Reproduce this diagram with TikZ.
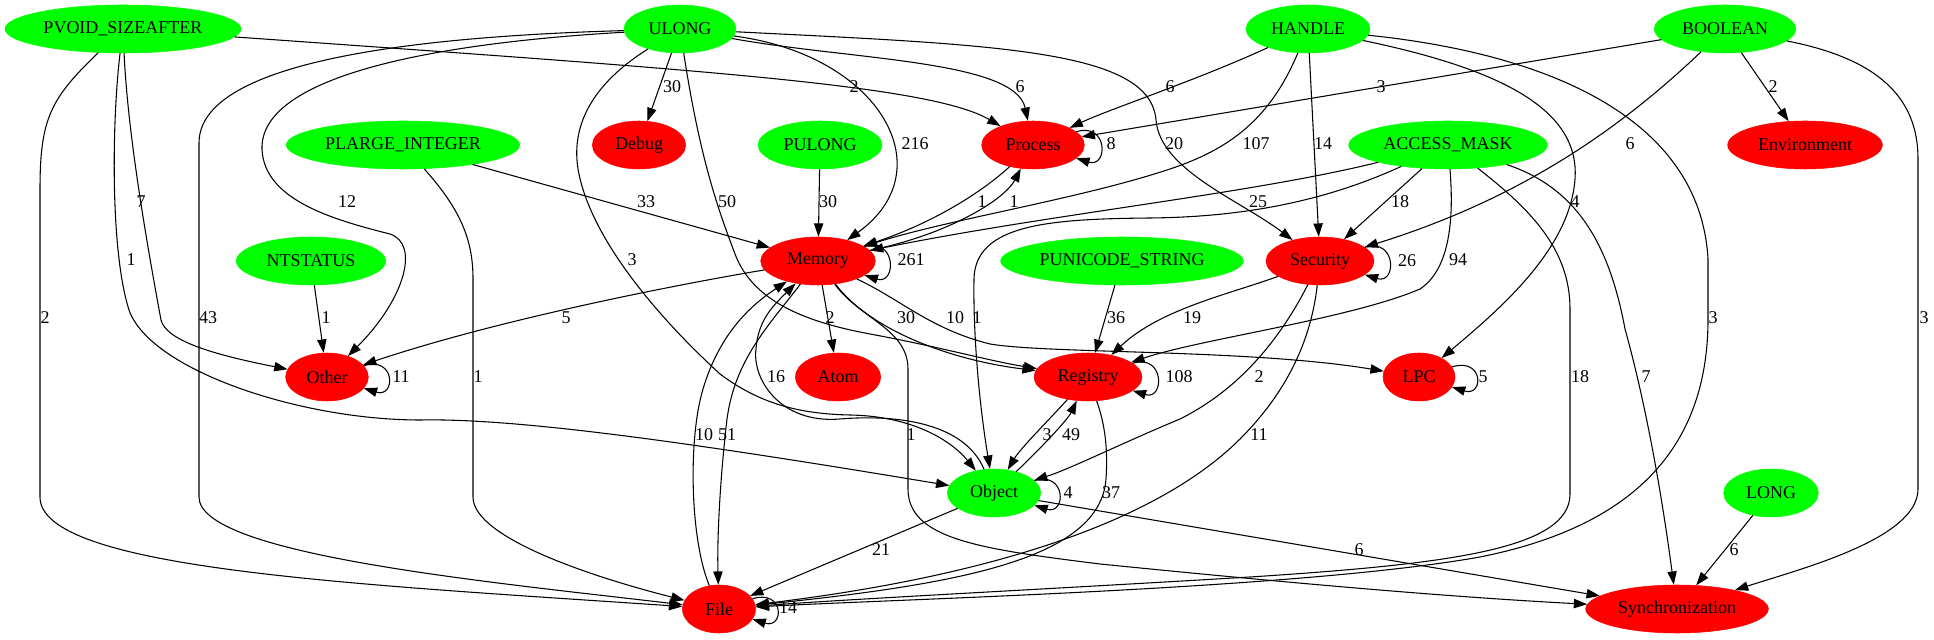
\documentclass[tikz,border=0pt]{standalone}
\usepackage{fontspec}
\setmainfont{Liberation Serif}
\usetikzlibrary{shapes.geometric,arrows.meta}

\definecolor{gvgreen}{HTML}{00FF00}
\definecolor{gvred}{HTML}{FF0000}

\begin{document}
\begin{tikzpicture}[x=0.75pt,y=0.75pt,
    typenode/.style={ellipse, fill=gvgreen, draw=gvgreen, inner sep=0pt, minimum height=36pt, font=\fontsize{13.5}{15}\selectfont},
    catnode/.style={typenode, fill=gvred, draw=gvred},
    dep/.style={-{Triangle[length=10pt,width=7pt]}, line width=0.8pt},
    cnt/.style={inner sep=0pt, font=\fontsize{13.5}{15}\selectfont}]
        \useasboundingbox (0,0) rectangle (1934,639);

        % Vertices
        \node[typenode, minimum width=177pt] (pvoid) at (123,610) {PVOID\_SIZEAFTER};
        \node[typenode, minimum width=84pt] (ulong) at (680,610) {ULONG};
        \node[typenode, minimum width=93pt] (handle) at (1308,610) {HANDLE};
        \node[typenode, minimum width=106pt] (boolean) at (1725,610) {BOOLEAN};
        \node[typenode, minimum width=175pt] (plarge) at (403,494) {PLARGE\_INTEGER};
        \node[catnode, minimum width=70pt] (debug) at (639,494) {Debug};
        \node[typenode, minimum width=93pt] (pulong) at (820,494) {PULONG};
        \node[catnode, minimum width=77pt] (process) at (1033,494) {Process};
        \node[typenode, minimum width=149pt] (amask) at (1448,494) {ACCESS\_MASK};
        \node[catnode, minimum width=116pt] (environ) at (1805,494) {Environment};
        \node[typenode, minimum width=112pt] (ntstatus) at (311,378) {NTSTATUS};
        \node[catnode, minimum width=86pt] (memory) at (818,378) {Memory};
        \node[typenode, minimum width=182pt] (punicode) at (1122,378) {PUNICODE\_STRING};
        \node[catnode, minimum width=81pt] (security) at (1320,378) {Security};
        \node[catnode, minimum width=62pt] (other) at (327,262) {Other};
        \node[catnode, minimum width=64pt] (atom) at (838,262) {Atom};
        \node[catnode, minimum width=81pt] (registry) at (1088,262) {Registry};
        \node[catnode, minimum width=54pt] (lpc) at (1419,262) {LPC};
        \node[typenode, minimum width=70pt] (object) at (994,146) {Object};
        \node[typenode, minimum width=71pt] (long) at (1771,146) {LONG};
        \node[catnode, minimum width=55pt] (file) at (719,30) {File};
        \node[catnode, minimum width=137pt] (sync) at (1677,30) {Synchronization};

        % Directed edges
        \draw[dep] (pvoid) .. controls (700,569) and (930,554) .. (process);
        \draw[dep] (pvoid) .. controls (50,540) and (40,520) .. (40,449) -- (40,142) .. controls (40,70) and (350,55) .. (file);
        \draw[dep] (pvoid) .. controls (128,499) and (150,379) .. (161,319) .. controls (166,299) and (210,285) .. (other);
        \draw[dep] (pvoid) .. controls (112,519) and (110,389) .. (129,329) .. controls (150,269) and (300,219) .. (420,219) .. controls (520,221) and (700,195) .. (object);

        \draw[dep] (ulong) -- (debug);
        \draw[dep] (ulong) .. controls (850,579) and (1015,579) .. (process);
        \draw[dep] (ulong) .. controls (880,584) and (945,469) .. (memory);
        \draw[dep] (ulong) .. controls (1000,594) and (1150,589) .. (1156,519) .. controls (1160,469) and (1240,439) .. (security);
        \draw[dep] (ulong) .. controls (700,480) and (718,430) .. (735,385) .. controls (752,340) and (800,318) .. (870,305) .. controls (940,292) and (990,278) .. (registry);
        \draw[dep] (ulong) .. controls (600,560) and (570,520) .. (578,470) .. controls (590,400) and (660,320) .. (720,265) .. controls (760,235) and (800,225) .. (850,224) .. controls (910,223) and (950,200) .. (object);
        \draw[dep] (ulong) .. controls (400,602) and (199,575) .. (199,496) -- (199,142) .. controls (199,85) and (480,58) .. (file);
        \draw[dep] (ulong) .. controls (420,595) and (260,560) .. (262,490) .. controls (264,440) and (330,420) .. (390,405) .. controls (420,395) and (405,340) .. (other);

        \draw[dep] (handle) .. controls (1200,560) and (1110,530) .. (process);
        \draw[dep] (handle) .. controls (1270,520) and (1230,490) .. (1170,470) .. controls (1080,440) and (950,420) .. (memory);
        \draw[dep] (handle) -- (security);
        \draw[dep] (handle) .. controls (1500,570) and (1580,530) .. (1575,460) .. controls (1570,390) and (1500,330) .. (lpc);
        \draw[dep] (handle) .. controls (1550,585) and (1700,520) .. (1708,380) -- (1708,320) .. controls (1708,180) and (1620,110) .. (1480,82) .. controls (1300,50) and (900,40) .. (file);

        \draw[dep] (boolean) -- (process);
        \draw[dep] (boolean) .. controls (1620,510) and (1520,440) .. (security);
        \draw[dep] (boolean) -- (environ);
        \draw[dep] (boolean) .. controls (1880,580) and (1918,540) .. (1918,480) -- (1918,150) .. controls (1918,100) and (1800,70) .. (sync);

        \draw[dep] (plarge) -- (memory);
        \draw[dep] (plarge) .. controls (460,430) and (473,400) .. (473,360) -- (473,142) .. controls (473,100) and (600,60) .. (file);
        \draw[dep] (pulong) -- (memory);
        \draw[dep] (ntstatus) -- (other);
        \draw[dep] (punicode) -- (registry);
        \draw[dep] (long) -- (sync);

        \draw[dep] (process.17) .. controls +(32,10) and +(32,-10) .. (process.-17);
        \draw[dep] (process) .. controls (980,445) and (930,415) .. (memory);
        \draw[dep] (memory) .. controls (950,405) and (1005,440) .. (process);

        \draw[dep] (amask) .. controls (1250,445) and (1050,425) .. (memory);
        \draw[dep] (amask) .. controls (1330,440) and (1250,422) .. (1150,421) .. controls (1050,420) and (975,415) .. (974,360) .. controls (973,300) and (980,230) .. (object);
        \draw[dep] (amask) -- (security);
        \draw[dep] (amask) .. controls (1454,420) and (1450,370) .. (1420,350) .. controls (1350,320) and (1200,300) .. (registry);
        \draw[dep] (amask) .. controls (1530,430) and (1570,390) .. (1570,330) -- (1570,145) .. controls (1570,90) and (1450,75) .. (1250,62) .. controls (1050,50) and (850,40) .. (file);
        \draw[dep] (amask) .. controls (1580,450) and (1610,390) .. (1625,310) .. controls (1650,220) and (1665,120) .. (sync);

        \draw[dep] (memory.17) .. controls +(32,10) and +(32,-10) .. (memory.-17);
        \draw[dep] (memory) .. controls (680,355) and (500,320) .. (other);
        \draw[dep] (memory) -- (atom);
        \draw[dep] (memory) .. controls (870,309) and (950,279) .. (registry);
        \draw[dep] (memory) .. controls (900,340) and (930,310) .. (990,295) .. controls (1050,285) and (1250,290) .. (lpc);
        \draw[dep] (memory) .. controls (860,320) and (908,310) .. (908,270) -- (908,150) .. controls (908,100) and (980,90) .. (1100,75) .. controls (1300,55) and (1450,42) .. (sync);
        \draw[dep] (memory) .. controls (770,315) and (735,280) .. (727,220) .. controls (720,160) and (717,100) .. (file);

        \draw[dep] (file.17) .. controls +(32,10) and +(32,-10) .. (file.-17);
        \draw[dep] (file) .. controls (690,100) and (688,200) .. (703,250) .. controls (718,300) and (745,330) .. (memory);

        \draw[dep] (object.17) .. controls +(32,10) and +(32,-10) .. (object.-17);
        \draw[dep] (object) .. controls (965,215) and (900,225) .. (840,220) .. controls (780,215) and (752,260) .. (756,290) .. controls (758,320) and (775,335) .. (memory);
        \draw[dep] (object) -- (file);
        \draw[dep] (object) .. controls (1045,195) and (1068,220) .. (registry);
        \draw[dep] (object) -- (sync);

        \draw[dep] (registry.17) .. controls +(32,10) and +(32,-10) .. (registry.-17);
        \draw[dep] (registry) .. controls (1045,215) and (1020,190) .. (object);
        \draw[dep] (registry) .. controls (1105,215) and (1108,190) .. (1106,160) .. controls (1100,80) and (960,55) .. (file);

        \draw[dep] (security.17) .. controls +(32,10) and +(32,-10) .. (security.-17);
        \draw[dep] (security) .. controls (1230,345) and (1160,330) .. (registry);
        \draw[dep] (security) .. controls (1280,300) and (1240,250) .. (1180,220) .. controls (1120,195) and (1070,170) .. (object);
        \draw[dep] (security) .. controls (1310,290) and (1280,240) .. (1240,200) .. controls (1180,140) and (1050,70) .. (file);

        \draw[dep] (lpc.17) .. controls +(32,10) and +(32,-10) .. (lpc.-17);
        \draw[dep] (other.17) .. controls +(32,10) and +(32,-10) .. (other.-17);

        % Edge counts
        \node[cnt] (c1) at (854,552) {2};
        \node[cnt] (c2) at (45,321) {2};
        \node[cnt] (c3) at (141,437) {7};
        \node[cnt] (c4) at (131,379) {1};
        \node[cnt] (c5) at (672,552) {30};
        \node[cnt] (c6) at (1020,552) {6};
        \node[cnt] (c7) at (915,495) {216};
        \node[cnt] (c8) at (1174,495) {20};
        \node[cnt] (c9) at (727,437) {50};
        \node[cnt] (c10) at (632,379) {3};
        \node[cnt] (c11) at (208,321) {43};
        \node[cnt] (c12) at (347,437) {12};
        \node[cnt] (c13) at (1170,552) {6};
        \node[cnt] (c14) at (1256,495) {107};
        \node[cnt] (c15) at (1323,495) {14};
        \node[cnt] (c16) at (1575,437) {4};
        \node[cnt] (c17) at (1713,321) {3};
        \node[cnt] (c18) at (1381,552) {3};
        \node[cnt] (c19) at (1630,495) {6};
        \node[cnt] (c20) at (1773,552) {2};
        \node[cnt] (c21) at (1924,321) {3};
        \node[cnt] (c22) at (646,437) {33};
        \node[cnt] (c23) at (478,262) {1};
        \node[cnt] (c24) at (828,437) {30};
        \node[cnt] (c25) at (1111,495) {8};
        \node[cnt] (c26) at (982,437) {1};
        \node[cnt] (c27) at (1014,437) {1};
        \node[cnt] (c28) at (1258,437) {25};
        \node[cnt] (c29) at (977,321) {1};
        \node[cnt] (c30) at (1400,437) {18};
        \node[cnt] (c31) at (1458,379) {94};
        \node[cnt] (c32) at (1580,262) {18};
        \node[cnt] (c33) at (1646,262) {7};
        \node[cnt] (c34) at (326,321) {1};
        \node[cnt] (c35) at (911,379) {261};
        \node[cnt] (c36) at (566,321) {5};
        \node[cnt] (c37) at (830,321) {2};
        \node[cnt] (c38) at (906,321) {30};
        \node[cnt] (c39) at (955,321) {10};
        \node[cnt] (c40) at (911,204) {1};
        \node[cnt] (c41) at (727,204) {51};
        \node[cnt] (c42) at (704,204) {10};
        \node[cnt] (c43) at (776,262) {16};
        \node[cnt] (c44) at (1068,146) {4};
        \node[cnt] (c45) at (881,89) {21};
        \node[cnt] (c46) at (1071,204) {49};
        \node[cnt] (c47) at (1047,204) {3};
        \node[cnt] (c48) at (1359,89) {6};
        \node[cnt] (c49) at (1179,262) {108};
        \node[cnt] (c50) at (1111,146) {37};
        \node[cnt] (c51) at (1116,321) {36};
        \node[cnt] (c52) at (1407,378) {26};
        \node[cnt] (c53) at (1192,321) {19};
        \node[cnt] (c54) at (1259,262) {2};
        \node[cnt] (c55) at (1259,204) {11};
        \node[cnt] (c56) at (1483,262) {5};
        \node[cnt] (c57) at (1734,89) {6};
        \node[cnt] (c58) at (788,31) {14};
        \node[cnt] (c59) at (401,262) {11};
    \end{tikzpicture}
\end{document}
